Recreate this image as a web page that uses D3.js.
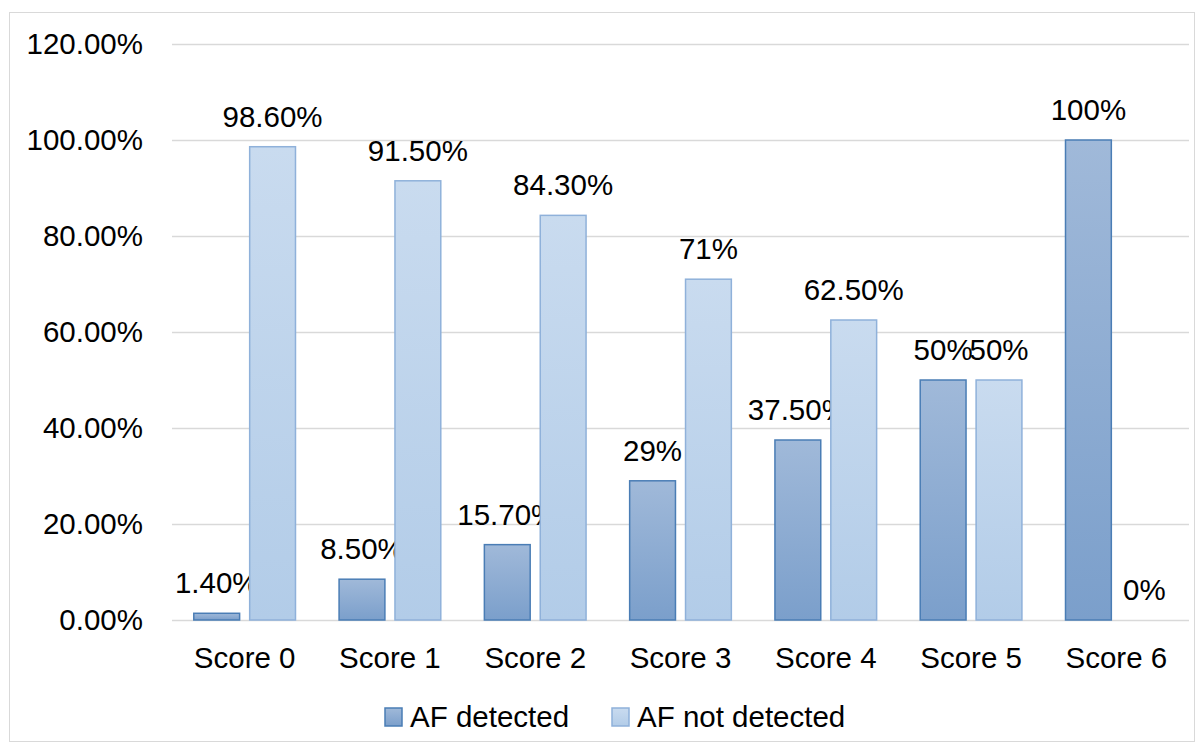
<!DOCTYPE html>
<html>
<head>
<meta charset="utf-8">
<script src="https://cdn.jsdelivr.net/npm/d3@7"></script>
<style>
  html, body { margin: 0; padding: 0; background: #fff; }
  #viz { width: 1204px; height: 751px; }
  text { font-family: "Liberation Sans", Arial, sans-serif; fill: #000; }
</style>
</head>
<body>
<div id="viz"></div>
<script>
const categories = ['Score 0', 'Score 1', 'Score 2', 'Score 3', 'Score 4', 'Score 5', 'Score 6'];
const seriesNames = ['AF detected', 'AF not detected'];
const detected = [1.4, 8.5, 15.7, 29, 37.5, 50, 100];
const notDetected = [98.6, 91.5, 84.3, 71, 62.5, 50, 0];
const detectedLabels = ['1.40%', '8.50%', '15.70%', '29%', '37.50%', '50%', '100%'];
const notDetectedLabels = ['98.60%', '91.50%', '84.30%', '71%', '62.50%', '50%', '0%'];
const yTicks = [0, 20, 40, 60, 80, 100, 120];

const W = 1204, H = 751;
const plotLeft = 172, plotRight = 1189, plotTop = 44, plotBottom = 620;
const fontSize = 29.5;
const fontFamily = '"Liberation Sans", Arial, sans-serif';

const svg = d3.select('#viz').append('svg')
  .attr('width', W).attr('height', H);

// gradients
const defs = svg.append('defs');
const grads = [
  { id: 'gDet', c0: '#a0b9d9', c1: '#7b9fcb' },
  { id: 'gNot', c0: '#c9dbef', c1: '#b2cce8' }
];
grads.forEach(g => {
  const lg = defs.append('linearGradient').attr('id', g.id)
    .attr('x1', 0).attr('y1', 0).attr('x2', 0).attr('y2', 1);
  lg.append('stop').attr('offset', '0%').attr('stop-color', g.c0);
  lg.append('stop').attr('offset', '100%').attr('stop-color', g.c1);
});
const fills = ['url(#gDet)', 'url(#gNot)'];
const strokes = ['#4a7db5', '#8fb1da'];

// outer frame
svg.append('rect')
  .attr('x', 9.5).attr('y', 12.5).attr('width', 1185).attr('height', 729)
  .attr('fill', 'none').attr('stroke', '#d9d9d9').attr('stroke-width', 1);

const x = d3.scaleBand().domain(categories).range([plotLeft, plotRight]).paddingInner(0.3).paddingOuter(0.15);
const xs = d3.scaleBand().domain(seriesNames).range([0, x.bandwidth()]).paddingInner(0.18);
const y = d3.scaleLinear().domain([0, 120]).range([plotBottom, plotTop]);

// gridlines
svg.append('g')
  .selectAll('line').data(yTicks).join('line')
  .attr('x1', plotLeft).attr('x2', plotRight)
  .attr('y1', d => Math.round(y(d)) + 0.5).attr('y2', d => Math.round(y(d)) + 0.5)
  .attr('stroke', '#d9d9d9').attr('stroke-width', 1.5);

// y axis labels
const yAxis = svg.append('g').attr('transform', `translate(${plotLeft},0)`)
  .call(d3.axisLeft(y).tickValues(yTicks).tickSize(0).tickPadding(29).tickFormat(d => d.toFixed(2) + '%'));
yAxis.select('.domain').remove();
yAxis.selectAll('text').attr('font-size', fontSize).attr('font-family', fontFamily).attr('fill', '#000');

// x axis labels
const xAxis = svg.append('g').attr('transform', `translate(0,${plotBottom})`)
  .call(d3.axisBottom(x).tickSize(0).tickPadding(27));
xAxis.select('.domain').remove();
xAxis.selectAll('text').attr('font-size', fontSize).attr('font-family', fontFamily).attr('fill', '#000');

const series = [
  { name: seriesNames[0], values: detected, labels: detectedLabels },
  { name: seriesNames[1], values: notDetected, labels: notDetectedLabels }
];

series.forEach((s, si) => {
  const g = svg.append('g');
  const rows = categories.map((c, i) => ({ c, v: s.values[i], l: s.labels[i] }));
  g.selectAll('rect').data(rows.filter(d => d.v > 0)).join('rect')
    .attr('x', d => x(d.c) + xs(s.name))
    .attr('y', d => y(d.v))
    .attr('width', xs.bandwidth())
    .attr('height', d => y(0) - y(d.v))
    .attr('fill', fills[si])
    .attr('stroke', strokes[si])
    .attr('stroke-width', 1.5);
  g.selectAll('text').data(rows).join('text')
    .attr('x', d => x(d.c) + xs(s.name) + xs.bandwidth() / 2)
    .attr('y', d => y(d.v) - 20)
    .attr('text-anchor', 'middle')
    .attr('font-size', fontSize)
    .text(d => d.l);
});

// legend
const legend = svg.append('g');
const legendX = [385, 612];
seriesNames.forEach((n, i) => {
  legend.append('rect')
    .attr('x', legendX[i]).attr('y', 708).attr('width', 17).attr('height', 18)
    .attr('fill', fills[i]).attr('stroke', strokes[i]).attr('stroke-width', 1.5);
  legend.append('text')
    .attr('x', legendX[i] + 25).attr('y', 727)
    .attr('font-size', fontSize)
    .text(n);
});
</script>
</body>
</html>
